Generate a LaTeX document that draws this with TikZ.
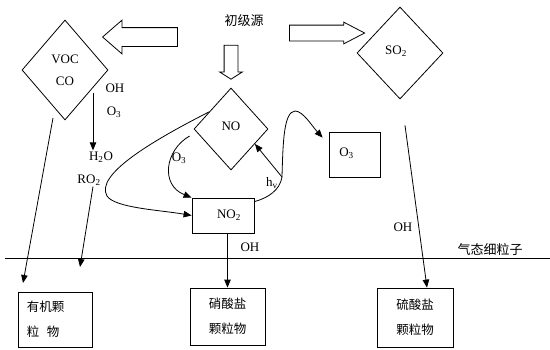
\documentclass[tikz,border=0pt]{standalone}
\usepackage{fontspec}
\setmainfont{Liberation Serif}
\newfontfamily\cjk{Noto Sans CJK SC}
\usetikzlibrary{arrows.meta,shapes.geometric,shapes.arrows}

\begin{document}
\begin{tikzpicture}[x=1pt, y=-1pt, line width=0.8pt,
    dia/.style={draw, diamond, inner sep=0pt, align=center, font=\fontsize{13}{22}\selectfont},
    box/.style={draw, inner sep=0pt, align=center, font=\fontsize{13}{16}\selectfont},
    pbox/.style={draw, inner sep=0pt, align=center, font=\cjk\fontsize{12.5}{25}\selectfont},
    lbl/.style={inner sep=1pt, font=\fontsize{13}{15}\selectfont},
    zh/.style={inner sep=1pt, font=\cjk\fontsize{13}{15}\selectfont},
    hol/.style={draw, single arrow, inner xsep=0pt, single arrow head extend=#1},
    arr/.style={-{Triangle[length=8pt,width=6.5pt]}}
]
\useasboundingbox (0,0) rectangle (550,349);

\node[zh] (src) at (244,21) {初级源};
\node[hol=7.5pt, inner ysep=9pt, minimum height=75pt, single arrow tip angle=82, shape border rotate=180] (arrL) at (145.5,37) {};
\node[hol=3pt, inner ysep=7.5pt, minimum height=75pt, single arrow tip angle=55] (arrR) at (319.5,33) {};
\node[hol=4.5pt, inner xsep=6.5pt, inner ysep=0pt, minimum height=34pt, single arrow tip angle=115, shape border rotate=270] (arrD) at (231,60) {};

\node[dia, minimum width=86pt, minimum height=100pt] (voc) at (65,70) {VOC\\CO};
\node[dia, minimum width=74pt, minimum height=82pt] (no) at (231,129) {\raisebox{5pt}{NO}};
\node[dia, minimum width=86pt, minimum height=92pt] (so2) at (400,53) {\raisebox{5pt}{SO\textsubscript{2}}\hspace*{8pt}};

\node[box, minimum width=62pt, minimum height=35pt] (no2) at (223,215.5) {\hspace*{12pt}NO\textsubscript{2}};
\node[box, minimum width=51pt, minimum height=45pt] (o3) at (354.5,154.5) {\raisebox{4pt}{O\textsubscript{3}}\hspace*{16pt}};

\node[pbox, minimum width=74pt, minimum height=55pt, text width=56pt, align=left] (org) at (55,319.5) {有机颗\\粒\hspace{0.6em}物};
\node[pbox, minimum width=75pt, minimum height=57pt] (nitr) at (227.5,316.5) {硝酸盐\\颗粒物};
\node[pbox, minimum width=76pt, minimum height=59pt] (sulf) at (415,317.5) {硫酸盐\\颗粒物};

\node[lbl] (ohA) at (115,88) {OH};
\node[lbl] (o3A) at (114,112) {O\textsubscript{3}};
\node[lbl] (h2o) at (101,157) {H\textsubscript{2}O};
\node[lbl] (ro2) at (89,180) {RO\textsubscript{2}};
\node[lbl] (o3B) at (179,158) {O\textsubscript{3}};
\node[lbl] (hv) at (272,183) {h\textsubscript{v}};
\node[lbl] (ohB) at (250,247) {OH};
\node[lbl] (ohC) at (403,227) {OH};
\node[zh] (gas) at (490,250) {气态细粒子};

\coordinate (lineL) at (5,258);
\coordinate (lineR) at (550,258);
\draw (lineL) -- (lineR);

\coordinate (vocB) at (93,93);
\coordinate (orgT) at (23,283);
\coordinate (roT) at (80,267);
\coordinate (hvj) at (282,177);

\draw[arr] ([shift={(-12,48)}]voc.center) -- (orgT);
\draw[arr] (vocB) -- (vocB |- h2o.north);
\draw[arr] ([xshift=4pt]ro2.south) -- (roT);

\draw[arr] (no.142) .. controls (150,142) and (95,175) .. (107,196)
    .. controls (115,208) and (160,210) .. (no2.west);
\draw[arr] ([shift={(-4,7)}]no.west) .. controls (165,150) and (160,185) .. (no2.north west);
\draw ([yshift=-4pt]no2.north east) .. controls (268,198) and (280,190) .. (hvj);
\draw[arr] (hvj) -- (no.-32);
\draw[arr] (hvj) .. controls (283,140) and (284,112) .. (295,111)
    .. controls (303,111) and (312,126) .. ([shift={(-6,6)}]o3.north west);

\draw[arr] (no2.south -| nitr.north) -- (nitr.north);
\draw[arr] ([shift={(5,26)}]so2.south) -- ([xshift=12pt]sulf.north);
\end{tikzpicture}
\end{document}
